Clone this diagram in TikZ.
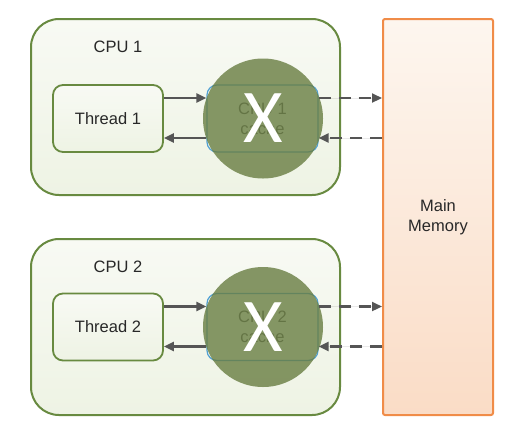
\documentclass[tikz,border=0pt]{standalone}
\usepackage{fontspec}
\setmainfont{Liberation Sans}
\newfontfamily\crossfont{Carlito}
\usepackage{xcolor}
\usetikzlibrary{arrows.meta,calc}

\definecolor{cpuline}{RGB}{104,138,64}
\definecolor{cputop}{RGB}{248,250,244}
\definecolor{cpubot}{RGB}{238,243,228}
\definecolor{memline}{RGB}{240,140,72}
\definecolor{memtop}{RGB}{253,246,239}
\definecolor{membot}{RGB}{250,220,198}
\definecolor{cacheline}{RGB}{80,160,210}
\definecolor{crossfill}{RGB}{104,125,65}
\definecolor{flowgray}{RGB}{85,85,85}
\definecolor{txt}{RGB}{40,40,40}

\begin{document}
\begin{tikzpicture}[x=1pt, y=-1pt, >={Triangle[length=10pt,width=9pt]},
  font=\fontsize{16.5}{20}\selectfont, text=txt,
  cpubox/.style={draw=cpuline, line width=2pt, rounded corners=28pt,
    top color=cputop, bottom color=cpubot,
    minimum width=309pt, minimum height=176pt},
  thrbox/.style={draw=cpuline, line width=1.8pt, rounded corners=10pt,
    top color=cputop, bottom color=cpubot,
    minimum width=110pt, minimum height=67pt},
  cachebox/.style={draw=cacheline, line width=1.2pt, rounded corners=10pt,
    fill=cputop, align=center, text=txt!80,
    minimum width=111pt, minimum height=67pt},
  membox/.style={draw=memline, line width=2pt, rounded corners=2pt,
    top color=memtop, bottom color=membot, align=center,
    minimum width=110pt, minimum height=396pt},
  cross/.style={circle, fill=crossfill, fill opacity=0.8, text opacity=1,
    text=white, inner sep=0pt, minimum size=120pt,
    font=\crossfont\fontsize{76}{76}\selectfont},
  flow/.style={draw=flowgray, fill=flowgray, line width=2.2pt},
  link/.style={flow, dash pattern=on 12pt off 8pt}]
  \useasboundingbox (0,0) rectangle (521,432);

  \node[membox] (mem) at (438,217) {Main\\Memory};

  % one block per CPU: box centre, label, thread row
  \foreach \i/\cy/\ly/\ty in {1/107/47/118.5, 2/327/267/327}{
    \node[cpubox] (cpu\i) at (185.5,\cy) {};
    \node (lbl\i) at (118,\ly) {CPU \i};
    \node[thrbox] (thr\i) at (108,\ty) {Thread \i};
    \node[cachebox] (cache\i) at (262.5,\ty) {CPU \i\\cache};
    \node[cross] (no\i) at (263,\ty) {X};

    \coordinate (wr\i) at ([yshift=20.5pt]cache\i.east);
    \coordinate (rd\i) at ([yshift=-19.5pt]cache\i.east);
    \draw[flow,->] ([yshift=20.5pt]thr\i.east) -- ([yshift=20.5pt]cache\i.west);
    \draw[flow,->] ([yshift=-19.5pt]cache\i.west) -- ([yshift=-19.5pt]thr\i.east);
    \draw[link,->] (wr\i) -- (wr\i -| mem.west);
    \draw[link,->] (rd\i -| mem.west) -- (rd\i);
  }
\end{tikzpicture}
\end{document}
